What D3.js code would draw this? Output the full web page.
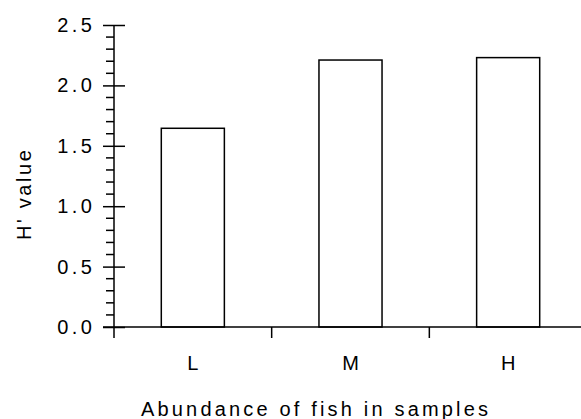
<!DOCTYPE html>
<html>
<head>
<meta charset="utf-8">
<script src="https://cdn.jsdelivr.net/npm/d3@7"></script>
<style>
body { margin: 0; background: #fff; }
text { font-family: "Liberation Sans", Arial, sans-serif; fill: #000; }
</style>
</head>
<body>
<script>
var categories = ["L", "M", "H"];
var values = [1.645, 2.21, 2.23];
var yTicks = [0, 0.5, 1.0, 1.5, 2.0, 2.5];

var width = 581, height = 419;
var plotLeft = 114, plotTop = 25, plotBottom = 327, plotRight = 587;

var svg = d3.select("body").append("svg")
    .attr("width", width)
    .attr("height", height);

var x = d3.scaleBand()
    .domain(categories)
    .range([plotLeft, plotRight])
    .padding(0);

var y = d3.scaleLinear()
    .domain([0, 2.5])
    .range([plotBottom, plotTop]);

var barW = x.bandwidth() * 0.4;

//bars
svg.selectAll(".bar")
    .data(values)
    .enter()
    .append("rect")
    .attr("class", "bar")
    .attr("x", function(d, i){ return x(categories[i]) + x.bandwidth() / 2 - barW / 2; })
    .attr("y", function(d){ return y(d); })
    .attr("width", barW)
    .attr("height", function(d){ return plotBottom - y(d); })
    .style("fill", "#fff")
    .style("stroke", "#000")
    .style("stroke-width", 1.5);

//y axis minor ticks
var minor = d3.range(0, 2.51, 0.1).filter(function(d){
    return Math.abs(d * 2 - Math.round(d * 2)) > 0.01;
});
svg.selectAll(".minor")
    .data(minor)
    .enter()
    .append("line")
    .attr("x1", plotLeft - 8)
    .attr("x2", plotLeft)
    .attr("y1", function(d){ return y(d); })
    .attr("y2", function(d){ return y(d); })
    .style("stroke", "#000")
    .style("stroke-width", 1.5);

//y axis major ticks, both sides
var yAxis = d3.axisLeft(y)
    .tickValues(yTicks)
    .tickFormat(d3.format(".1f"))
    .tickSizeInner(11)
    .tickSizeOuter(0)
    .tickPadding(10);

var gy = svg.append("g")
    .attr("transform", "translate(" + plotLeft + ",0)")
    .call(yAxis);
gy.select(".domain").remove();
gy.selectAll(".tick line")
    .attr("x1", 11)
    .attr("x2", -11)
    .style("stroke-width", 1.5);
gy.selectAll(".tick text")
    .attr("x", -18.5)
    .style("font-size", "20px")
    .style("letter-spacing", "3.5px")
    .style("font-family", "'Liberation Sans', Arial, sans-serif");

svg.append("line")
    .attr("x1", plotLeft).attr("x2", plotLeft)
    .attr("y1", plotTop).attr("y2", plotBottom + 11)
    .style("stroke", "#000")
    .style("stroke-width", 1.5);

//x axis
var xAxis = d3.axisBottom(x)
    .tickSize(0)
    .tickPadding(29);

var gx = svg.append("g")
    .attr("transform", "translate(0," + plotBottom + ")")
    .call(xAxis);
gx.select(".domain").remove();
gx.selectAll(".tick text")
    .style("font-size", "20px")
    .style("font-family", "'Liberation Sans', Arial, sans-serif");

svg.append("line")
    .attr("x1", plotLeft - 11).attr("x2", width)
    .attr("y1", plotBottom).attr("y2", plotBottom)
    .style("stroke", "#000")
    .style("stroke-width", 1.5);

//category boundary ticks
svg.selectAll(".bound")
    .data(categories.slice(1))
    .enter()
    .append("line")
    .attr("x1", function(d){ return x(d); })
    .attr("x2", function(d){ return x(d); })
    .attr("y1", plotBottom)
    .attr("y2", plotBottom + 11)
    .style("stroke", "#000")
    .style("stroke-width", 1.5);

//axis titles
svg.append("text")
    .attr("x", 141)
    .attr("y", 416)
    .attr("textLength", 347)
    .attr("lengthAdjust", "spacing")
    .style("font-size", "20px")
    .text("Abundance of fish in samples");

svg.append("text")
    .attr("transform", "translate(31,240) rotate(-90)")
    .attr("textLength", 90)
    .attr("lengthAdjust", "spacing")
    .style("font-size", "20px")
    .text("H' value");
</script>
</body>
</html>
